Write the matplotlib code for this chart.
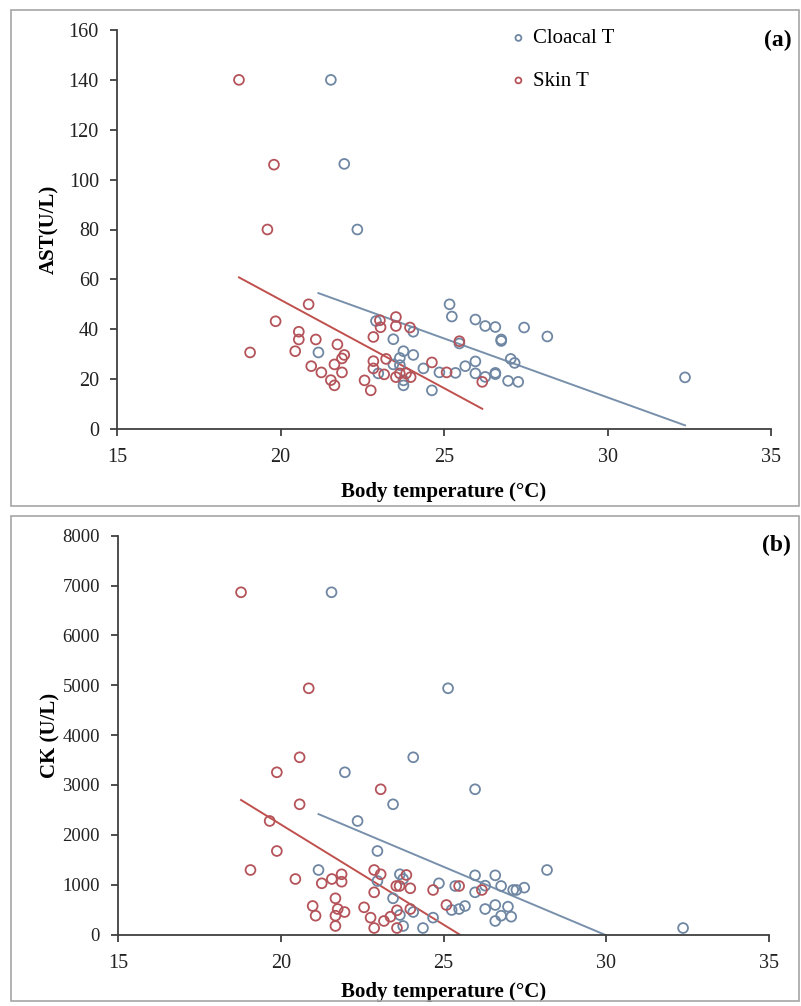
import matplotlib
matplotlib.use("Agg")
import matplotlib.pyplot as plt
import numpy as np
from matplotlib.patches import Rectangle

plt.rcParams['font.family'] = ['Liberation Serif', 'DejaVu Serif']

# Panel (a): AST vs body temperature
ast_cloacal_t = [21.54, 21.95, 22.35, 21.16, 22.92, 23.45, 23.76, 23.65, 24.06, 23.45,
                 23.65, 22.99, 23.76, 23.76, 24.06, 24.37, 24.63, 24.86, 25.17, 25.24,
                 25.35, 25.47, 25.65, 25.96, 25.96, 25.96, 26.26, 26.26, 26.57, 26.57,
                 26.57, 26.75, 26.75, 26.96, 27.04, 27.16, 27.27, 27.45, 28.16, 32.37]
ast_cloacal_v = [140, 106.3, 80, 30.7, 43.3, 36, 31.2, 28.5, 29.7, 25.9,
                 25.6, 22.3, 17.5, 19.5, 39, 24.3, 15.5, 22.7, 50, 45.1,
                 22.5, 34.3, 25.2, 43.9, 27.1, 22.3, 41.3, 20.9, 40.9, 22.5,
                 22.0, 35.9, 35.3, 19.3, 28.1, 26.5, 18.9, 40.7, 37.1, 20.7]
ast_skin_t = [18.73, 19.8, 19.6, 20.86, 19.85, 20.56, 20.56, 20.45, 19.07, 21.08,
              21.74, 21.95, 21.88, 20.94, 21.65, 21.25, 21.88, 21.54, 21.65, 22.57,
              22.76, 22.84, 22.84, 22.84, 23.04, 23.06, 23.53, 23.53, 23.96, 23.23,
              23.17, 23.53, 23.65, 23.84, 23.98, 24.63, 25.08, 25.47, 26.17]
ast_skin_v = [140, 106, 80, 50, 43.2, 39, 35.9, 31.2, 30.7, 35.9,
              33.9, 29.7, 28.3, 25.2, 25.9, 22.7, 22.7, 19.6, 17.5, 19.5,
              15.5, 36.9, 27.2, 24.3, 43.6, 40.8, 44.9, 41.3, 40.7, 28.1,
              21.9, 20.8, 22.3, 22.3, 20.8, 26.7, 22.7, 35.2, 18.9]

# Panel (b): CK vs body temperature
ck_cloacal_t = [21.56, 25.14, 21.97, 24.07, 23.45, 22.36, 22.97, 21.16, 22.97, 23.66,
                23.76, 23.45, 23.66, 23.76, 24.07, 24.37, 24.68, 24.86, 25.97, 25.36,
                25.25, 25.48, 25.66, 25.97, 25.97, 26.28, 26.28, 26.59, 26.59, 26.59,
                26.77, 26.77, 26.98, 27.08, 27.14, 27.24, 27.48, 28.18, 32.36]
ck_cloacal_v = [6865, 4939, 3254, 3555, 2612, 2277, 1675, 1294, 1073, 1208,
                1113, 726, 391, 171, 451, 130, 338, 1027, 2913, 973,
                491, 511, 572, 1187, 846, 980, 511, 1187, 592, 271,
                973, 377, 558, 357, 893, 893, 940, 1294, 130]
ck_skin_t = [18.78, 20.86, 20.58, 19.88, 23.07, 20.58, 19.66, 19.88, 19.07, 20.45,
             21.26, 21.57, 21.87, 21.87, 22.87, 23.07, 22.87, 21.68, 20.98, 21.07,
             21.75, 21.68, 21.96, 21.68, 22.56, 22.76, 22.87, 23.17, 23.37, 23.57,
             23.57, 23.55, 23.65, 23.86, 23.98, 23.98, 24.68, 25.09, 25.48, 26.18]
ck_skin_v = [6865, 4939, 3555, 3254, 2913, 2612, 2277, 1675, 1294, 1113,
             1027, 1113, 1208, 1059, 1294, 1208, 846, 726, 572, 377,
             511, 377, 451, 171, 545, 338, 130, 271, 357, 485,
             130, 973, 973, 1194, 927, 511, 893, 592, 973, 893]

x_ticks = [15, 20, 25, 30, 35]
ast_ticks = list(range(0, 161, 20))
ck_ticks = list(range(0, 8001, 1000))

BLUE = '#6f87a3'
RED = '#b4545a'
BLUE_LINE = '#7890ab'
RED_LINE = '#c0504d'

W, H = 801, 1006
fig = plt.figure(figsize=(W / 100, H / 100), dpi=100)

# chart-area borders
for (x0, y0, x1, y1) in [(11, 10, 799, 506), (11, 516, 799, 1001)]:
    fig.patches.append(Rectangle((x0 / W, 1 - y1 / H), (x1 - x0) / W, (y1 - y0) / H,
                                 transform=fig.transFigure, fill=False,
                                 edgecolor='#a6a6a6', linewidth=1.2))


def trend(ax, t, v, color):
    t = np.array(t)
    k, b = np.polyfit(t, np.array(v), 1)
    xs = np.array([t.min(), t.max()])
    ax.plot(xs, k * xs + b, color=color, linewidth=1.4)


def panel(rect, ct, cv, st, sv, yticks, ylabel, tag, xlab_gap, ysize, legend=False):
    ax = fig.add_axes(rect)
    ax.scatter(ct, cv, s=50, facecolors='none', edgecolors=BLUE, linewidths=1.3,
               label='Cloacal T', zorder=3)
    ax.scatter(st, sv, s=50, facecolors='none', edgecolors=RED, linewidths=1.3,
               label='Skin T', zorder=3)
    trend(ax, ct, cv, BLUE_LINE)
    trend(ax, st, sv, RED_LINE)
    ax.set_xlim(15, 35)
    ax.set_ylim(yticks[0], yticks[-1])
    ax.set_xticks(x_ticks)
    ax.set_yticks(yticks)
    for s in ['top', 'right']:
        ax.spines[s].set_visible(False)
    for s in ['left', 'bottom']:
        ax.spines[s].set_color('#404040')
        ax.spines[s].set_linewidth(1.3)
    ax.tick_params(direction='out', length=5, width=1.3, color='#404040',
                   labelsize=14.5, labelcolor='#222222')
    ax.tick_params(axis='y', pad=8, labelsize=ysize)
    ax.tick_params(axis='x', pad=9)
    ax.set_xlabel('Body temperature (°C)', fontsize=15, fontweight='bold')
    ax.xaxis.set_label_coords(0.5, -xlab_gap / (rect[3] * H))
    ax.set_ylabel(ylabel, fontsize=15, fontweight='bold')
    ax.yaxis.set_label_coords(-58 / (rect[2] * W), 0.5)
    ax.text(1.011, 0.975, tag, transform=ax.transAxes, ha='center', va='center',
            fontsize=17, fontweight='bold')
    if legend:
        ax.legend(loc='upper left', bbox_to_anchor=(0.566, 1.05), frameon=False,
                  fontsize=15, markerscale=0.6, handletextpad=0.1,
                  labelspacing=1.1, handlelength=1.2)
    return ax


panel([117 / W, 1 - 429 / H, 654 / W, 399 / H], ast_cloacal_t, ast_cloacal_v,
      ast_skin_t, ast_skin_v, ast_ticks, 'AST(U/L)', '(a)', 53, 14.5, legend=True)
panel([118 / W, 1 - 934.5 / H, 651 / W, 398.8 / H], ck_cloacal_t, ck_cloacal_v,
      ck_skin_t, ck_skin_v, ck_ticks, 'CK (U/L)', '(b)', 48, 13.5)

fig.savefig('out.png', dpi=100)
